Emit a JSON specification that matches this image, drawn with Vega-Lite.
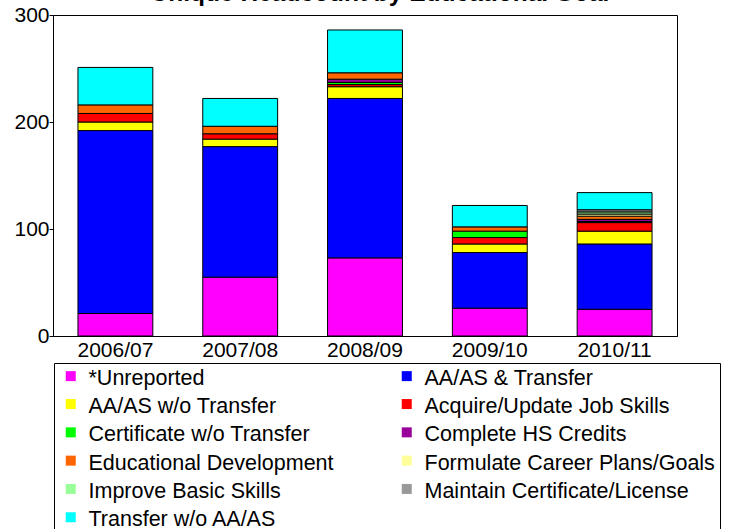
{
  "$schema": "https://vega.github.io/schema/vega-lite/v6.json",
  "width": 624,
  "height": 321,
  "autosize": {"type": "none"},
  "padding": {"left": 53, "top": 15, "right": 62, "bottom": 193},
  "background": "white",
  "title": {
    "text": "Unique Headcount by Educational Goal",
    "fontSize": 24.5,
    "fontWeight": "bold",
    "font": "Liberation Sans",
    "color": "black",
    "anchor": "middle",
    "baseline": "alphabetic",
    "offset": -21,
    "dx": 15
  },
  "config": {
    "view": {"stroke": "black", "strokeWidth": 1},
    "font": "Liberation Sans"
  },
  "data": {
    "values": [
      {"year": "2006/07", "goal": "*Unreported", "count": 21},
      {"year": "2006/07", "goal": "AA/AS & Transfer", "count": 171},
      {"year": "2006/07", "goal": "AA/AS w/o Transfer", "count": 8},
      {"year": "2006/07", "goal": "Acquire/Update Job Skills", "count": 8},
      {"year": "2006/07", "goal": "Educational Development", "count": 8},
      {"year": "2006/07", "goal": "Transfer w/o AA/AS", "count": 35},
      {"year": "2007/08", "goal": "*Unreported", "count": 55},
      {"year": "2007/08", "goal": "AA/AS & Transfer", "count": 122},
      {"year": "2007/08", "goal": "AA/AS w/o Transfer", "count": 7},
      {"year": "2007/08", "goal": "Acquire/Update Job Skills", "count": 5},
      {"year": "2007/08", "goal": "Educational Development", "count": 7},
      {"year": "2007/08", "goal": "Transfer w/o AA/AS", "count": 26},
      {"year": "2008/09", "goal": "*Unreported", "count": 73},
      {"year": "2008/09", "goal": "AA/AS & Transfer", "count": 149},
      {"year": "2008/09", "goal": "AA/AS w/o Transfer", "count": 11},
      {"year": "2008/09", "goal": "Acquire/Update Job Skills", "count": 2},
      {"year": "2008/09", "goal": "Certificate w/o Transfer", "count": 2},
      {"year": "2008/09", "goal": "Complete HS Credits", "count": 3},
      {"year": "2008/09", "goal": "Educational Development", "count": 6},
      {"year": "2008/09", "goal": "Transfer w/o AA/AS", "count": 40},
      {"year": "2009/10", "goal": "*Unreported", "count": 26},
      {"year": "2009/10", "goal": "AA/AS & Transfer", "count": 52},
      {"year": "2009/10", "goal": "AA/AS w/o Transfer", "count": 8},
      {"year": "2009/10", "goal": "Acquire/Update Job Skills", "count": 6},
      {"year": "2009/10", "goal": "Certificate w/o Transfer", "count": 6},
      {"year": "2009/10", "goal": "Educational Development", "count": 4},
      {"year": "2009/10", "goal": "Transfer w/o AA/AS", "count": 20},
      {"year": "2010/11", "goal": "*Unreported", "count": 25},
      {"year": "2010/11", "goal": "AA/AS & Transfer", "count": 61},
      {"year": "2010/11", "goal": "AA/AS w/o Transfer", "count": 12},
      {"year": "2010/11", "goal": "Acquire/Update Job Skills", "count": 8},
      {"year": "2010/11", "goal": "Certificate w/o Transfer", "count": 1},
      {"year": "2010/11", "goal": "Complete HS Credits", "count": 2},
      {"year": "2010/11", "goal": "Educational Development", "count": 3},
      {"year": "2010/11", "goal": "Formulate Career Plans/Goals", "count": 2},
      {"year": "2010/11", "goal": "Improve Basic Skills", "count": 2},
      {"year": "2010/11", "goal": "Maintain Certificate/License", "count": 2},
      {"year": "2010/11", "goal": "Transfer w/o AA/AS", "count": 16}
    ]
  },
  "mark": {"type": "bar", "stroke": "black", "strokeWidth": 1},
  "encoding": {
    "x": {
      "field": "year",
      "type": "nominal",
      "scale": {"paddingInner": 0.4, "paddingOuter": 0.2},
      "axis": {
        "title": null,
        "labelAngle": 0,
        "labelFontSize": 21,
        "labelColor": "black",
        "labelFont": "Liberation Sans",
        "ticks": false,
        "labelPadding": 3,
        "domainColor": "black"
      }
    },
    "y": {
      "field": "count",
      "type": "quantitative",
      "aggregate": "sum",
      "stack": "zero",
      "scale": {"domain": [0, 300], "nice": false},
      "axis": {
        "title": null,
        "values": [0, 100, 200, 300],
        "grid": false,
        "labelFontSize": 21,
        "labelColor": "black",
        "labelFont": "Liberation Sans",
        "tickSize": 4,
        "tickColor": "black",
        "labelPadding": 0,
        "domainColor": "black"
      }
    },
    "color": {
      "field": "goal",
      "type": "nominal",
      "scale": {
        "domain": ["*Unreported", "AA/AS & Transfer", "AA/AS w/o Transfer", "Acquire/Update Job Skills", "Certificate w/o Transfer", "Complete HS Credits", "Educational Development", "Formulate Career Plans/Goals", "Improve Basic Skills", "Maintain Certificate/License", "Transfer w/o AA/AS"],
        "range": ["#FF00FF", "#0000FF", "#FFFF00", "#FF0000", "#00FF00", "#990099", "#FF6600", "#FFFF99", "#99FF99", "#999999", "#00FFFF"]
      },
      "legend": {
        "title": null,
        "orient": "none",
        "legendX": 1,
        "legendY": 348,
        "columns": 2,
        "direction": "horizontal",
        "strokeColor": "black",
        "padding": 5,
        "symbolType": "M-1,-1.6H1V0.4H-1Z",
        "symbolSize": 100,
        "symbolStrokeWidth": 0,
        "symbolOffset": 1,
        "labelOffset": 7,
        "labelFontSize": 21.5,
        "labelFont": "Liberation Sans",
        "labelColor": "black",
        "labelLimit": 400,
        "rowPadding": 5.3,
        "columnPadding": 61
      }
    },
    "order": {"field": "goal", "sort": "ascending"}
  }
}
